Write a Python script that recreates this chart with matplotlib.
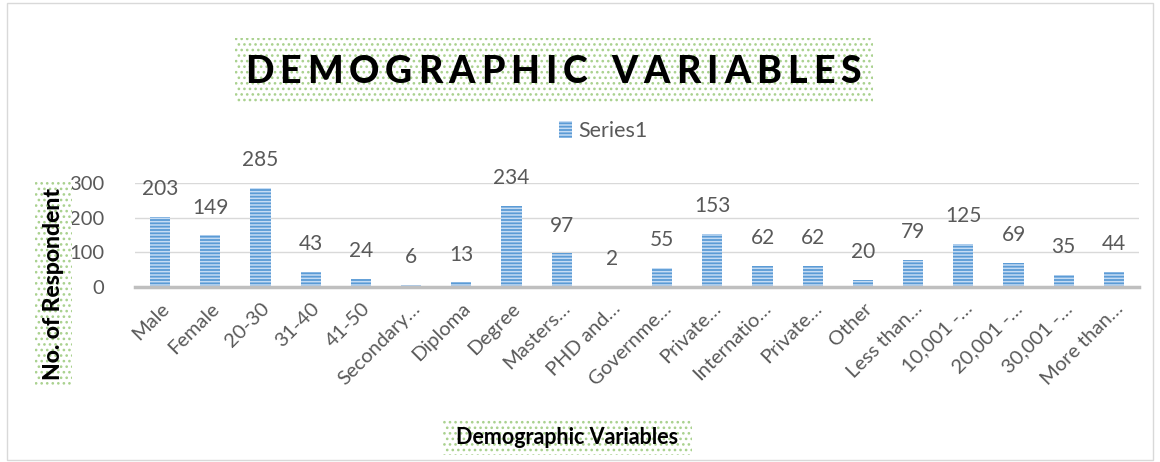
import matplotlib.pyplot as plt
from matplotlib.patches import Rectangle, Patch

categories = ["Male", "Female", "20-30", "31-40", "41-50", "Secondary…", "Diploma",
              "Degree", "Masters…", "PHD and…", "Governme…", "Private…", "Internatio…",
              "Private…", "Other", "Less than…", "10,001 -…", "20,001 -…", "30,001 -…",
              "More than…"]
respondents = [203, 149, 285, 43, 24, 6, 13, 234, 97, 2, 55, 153, 62, 62, 20, 79, 125, 69, 35, 44]
yticks = [0, 100, 200, 300]
title = "DEMOGRAPHIC VARIABLES"

FONT = "Lato"
GREY = "#595959"
BLUE = "#5b9bd5"
DOTS = "#a9d18e"
W, H = 1160, 462

plt.rcParams["font.family"] = [FONT, "DejaVu Sans"]
plt.rcParams["hatch.linewidth"] = 1.1

fig = plt.figure(figsize=(W / 100, H / 100), dpi=100)
fig.patches.append(Rectangle((0.006, 0.004), 0.988, 0.99, transform=fig.transFigure,
                             fill=False, edgecolor="#d9d9d9", lw=1))

ax = fig.add_axes([135 / W, 1 - 287 / H, (1139 - 135) / W, (287 - 183) / H])
x = range(len(categories))
bars = ax.bar(x, respondents, width=0.4, color=BLUE, edgecolor="#c5dcf4",
              hatch="-----", linewidth=0, zorder=3)
for b, v in zip(bars, respondents):
    ax.text(b.get_x() + b.get_width() / 2, v + 80, str(v), ha="center", va="center",
            fontsize=15, color=GREY, clip_on=False)

ax.set_xlim(-0.5, len(categories) - 0.5)
ax.set_ylim(0, 300)
ax.set_yticks(yticks)
ax.tick_params(axis="y", length=0, labelsize=14.5, labelcolor=GREY, pad=22)
ax.tick_params(axis="x", length=0, labelsize=14.5, labelcolor=GREY, pad=9)
ax.set_xticks(list(x))
ax.set_xticklabels(categories, rotation=45, ha="right", rotation_mode="anchor")
ax.grid(axis="y", color="#d9d9d9", lw=1, zorder=0)
for s in ["top", "right", "left"]:
    ax.spines[s].set_visible(False)
ax.spines["bottom"].set_color("#bfbfbf")
ax.spines["bottom"].set_linewidth(2.5)
ax.spines["bottom"].set_zorder(4)


def dotted_box(x0, y0, x1, y1):
    fig.patches.append(Rectangle((x0 / W, 1 - y1 / H), (x1 - x0) / W, (y1 - y0) / H,
                                 transform=fig.transFigure, facecolor="white",
                                 edgecolor=DOTS, hatch="...", lw=0, zorder=0))


# title with letter spacing
dotted_box(235, 38, 873, 104)
renderer = fig.canvas.get_renderer()
track = 6
pieces, widths = [], []
for ch in title:
    t = fig.text(0, 1 - 72 / H, ch, fontsize=27, fontweight="black", color="black",
                 va="center", ha="left")
    pieces.append(t)
    widths.append(t.get_window_extent(renderer).width if ch != " " else 12)
total = sum(widths) + track * (len(title) - 1)
cx = 553 - total / 2
for t, w in zip(pieces, widths):
    t.set_x(cx / W)
    cx += w + track

# legend
fig.legend(handles=[Patch(facecolor=BLUE, edgecolor="#c5dcf4", hatch="-----", lw=0)],
           labels=["Series1"], loc="center", bbox_to_anchor=(603 / W, 1 - 131 / H),
           frameon=False, fontsize=15.5, handlelength=0.6, handleheight=0.8,
           handletextpad=0.3, labelcolor=GREY)

# y label
dotted_box(35, 182, 72, 385)
fig.text(54 / W, 1 - 284 / H, "No. of Respondent", rotation=90, fontsize=16.5,
         fontweight="black", ha="center", va="center", color="black")

# x label
dotted_box(443, 418, 692, 455)
fig.text(567 / W, 1 - 437 / H, "Demographic Variables", fontsize=15.5,
         fontweight="bold", ha="center", va="center", color="black")

fig.savefig("out.png", dpi=100)
